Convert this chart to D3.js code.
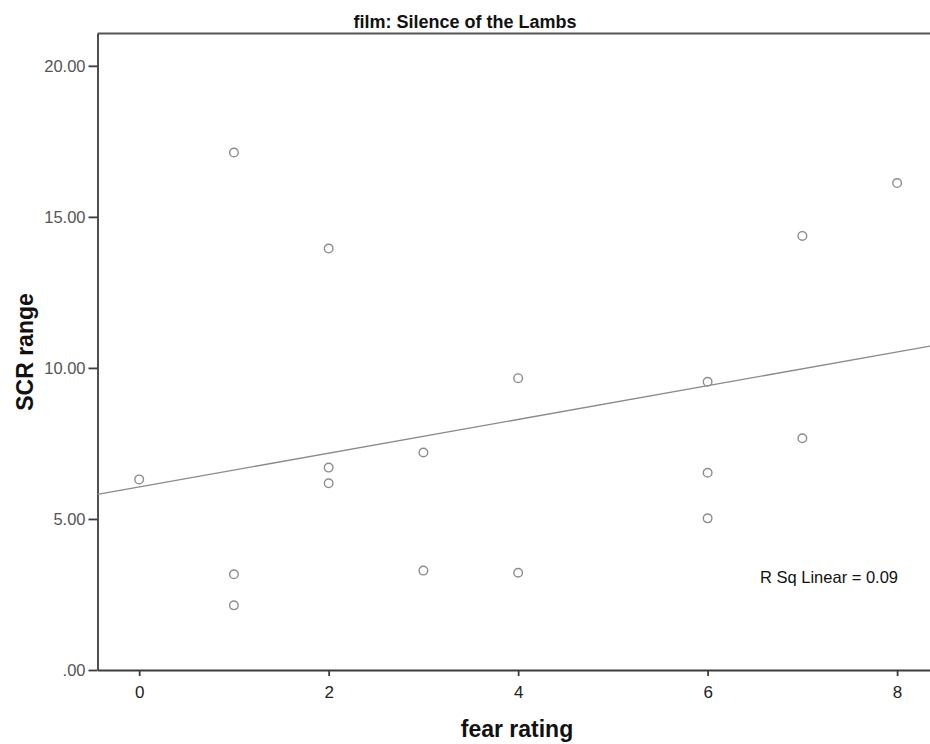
<!DOCTYPE html>
<html>
<head>
<meta charset="utf-8">
<script src="https://cdn.jsdelivr.net/npm/d3@7"></script>
<style>
  body { margin: 0; background: #fff; }
  svg { display: block; font-family: "Liberation Sans", Arial, sans-serif; }
  .axis path, .axis line { stroke: #3c3c3c; stroke-width: 1.8; }
  .y-axis text { fill: #555; font-size: 16.5px; }
  .x-axis text { fill: #222; font-size: 17px; }
</style>
</head>
<body>
<div id="chart"></div>
<script>
// fear rating (x) and SCR range (y), one entry per participant
const fearRating = [0, 1, 1, 1, 2, 2, 2, 3, 3, 4, 4, 6, 6, 6, 7, 7, 8];
const scrRange   = [6.31, 17.13, 3.17, 2.14, 13.95, 6.70, 6.18, 7.20, 3.29,
                    9.66, 3.22, 9.54, 6.53, 5.02, 14.37, 7.67, 16.12];
const xTicks = [0, 2, 4, 6, 8];
const yTicks = [0, 5, 10, 15, 20];
const chartTitle = 'film: Silence of the Lambs';

const width = 930, height = 744;
const plotLeft = 97.5, plotTop = 33.5, plotBottom = 670, plotRight = 935;

const svg = d3.select('#chart').append('svg')
  .attr('width', width).attr('height', height);

const x = d3.scaleLinear().domain([-0.44, 8.4]).range([plotLeft, plotRight]);
const y = d3.scaleLinear().domain([0, 21.07]).range([plotBottom, plotTop]);

// least squares fit
const n = fearRating.length;
const mx = d3.mean(fearRating), my = d3.mean(scrRange);
let sxx = 0, sxy = 0, syy = 0;
for (let i = 0; i < n; i++) {
  const dx = fearRating[i] - mx, dy = scrRange[i] - my;
  sxx += dx * dx; sxy += dx * dy; syy += dy * dy;
}
const slope = sxy / sxx;
const intercept = my - slope * mx;
const r2 = (sxy * sxy) / (sxx * syy);

// frame top
svg.append('line')
  .attr('x1', plotLeft).attr('x2', plotRight).attr('y1', plotTop).attr('y2', plotTop)
  .attr('stroke', '#555').attr('stroke-width', 2);

const fmtY = d => d === 0 ? '.00' : d3.format('.2f')(d);

svg.append('g').attr('class', 'axis y-axis')
  .attr('transform', `translate(${plotLeft},0)`)
  .call(d3.axisLeft(y).tickValues(yTicks).tickFormat(fmtY)
    .tickSize(9).tickSizeOuter(0).tickPadding(3));

svg.append('g').attr('class', 'axis x-axis')
  .attr('transform', `translate(0,${plotBottom})`)
  .call(d3.axisBottom(x).tickValues(xTicks).tickFormat(d3.format('d'))
    .tickSize(6).tickSizeOuter(0).tickPadding(10));

// fit line across the plot
const [x0, x1] = x.domain();
svg.append('line')
  .attr('x1', x(x0)).attr('y1', y(intercept + slope * x0))
  .attr('x2', x(x1)).attr('y2', y(intercept + slope * x1))
  .attr('stroke', '#8a8a8a').attr('stroke-width', 1.4);

svg.append('g').selectAll('circle')
  .data(d3.range(n))
  .join('circle')
  .attr('cx', i => x(fearRating[i]))
  .attr('cy', i => y(scrRange[i]))
  .attr('r', 4.3)
  .attr('fill', 'none')
  .attr('stroke', '#8c8c8c')
  .attr('stroke-width', 1.4);

svg.append('text')
  .attr('x', 760).attr('y', 583)
  .attr('font-size', 16.5).attr('fill', '#111')
  .text(`R Sq Linear = ${r2.toFixed(2)}`);

svg.append('text')
  .attr('x', 465).attr('y', 28)
  .attr('text-anchor', 'middle')
  .attr('font-size', 18).attr('font-weight', 'bold').attr('fill', '#111')
  .text(chartTitle);

svg.append('text')
  .attr('x', 517).attr('y', 737)
  .attr('text-anchor', 'middle')
  .attr('font-size', 23).attr('font-weight', 'bold').attr('fill', '#111')
  .text('fear rating');

svg.append('text')
  .attr('transform', 'translate(33,352) rotate(-90)')
  .attr('text-anchor', 'middle')
  .attr('font-size', 23).attr('font-weight', 'bold').attr('fill', '#111')
  .text('SCR range');
</script>
</body>
</html>
